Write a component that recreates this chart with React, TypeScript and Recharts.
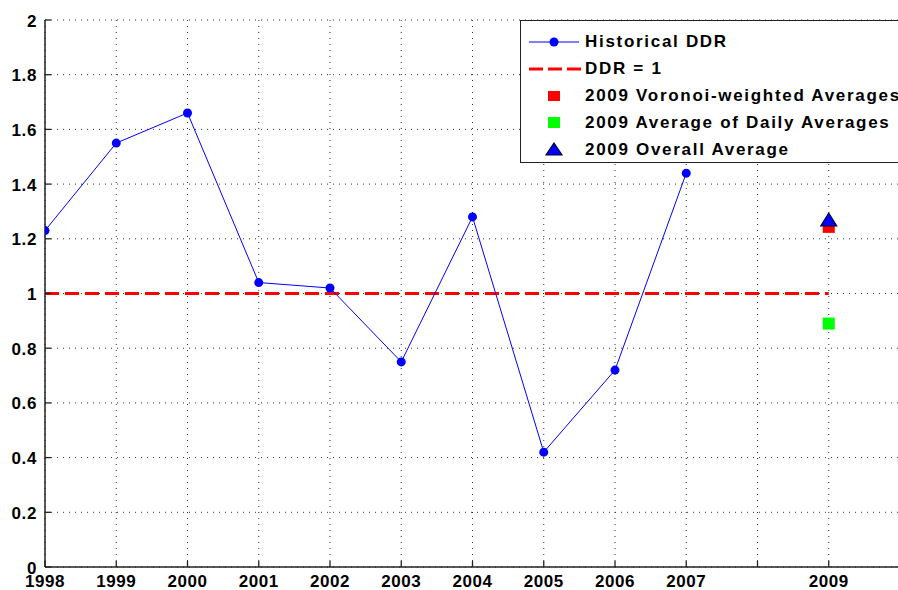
import { ComposedChart, Line, Scatter, XAxis, YAxis, CartesianGrid } from 'recharts';

const years = [1998, 1999, 2000, 2001, 2002, 2003, 2004, 2005, 2006, 2007];
const ddrValues = [1.23, 1.55, 1.66, 1.04, 1.02, 0.75, 1.28, 0.42, 0.72, 1.44];
const refYears = [1998, 2009];
const refValue = 1;
const voronoiAvg = [{ year: 2009, value: 1.24 }];
const dailyAvg = [{ year: 2009, value: 0.89 }];
const overallAvg = [{ year: 2009, value: 1.265 }];
const xTicks = [1998, 1999, 2000, 2001, 2002, 2003, 2004, 2005, 2006, 2007, 2008, 2009, 2010];
const hiddenXLabels = [2008, 2010];
const yTicks = [0, 0.2, 0.4, 0.6, 0.8, 1, 1.2, 1.4, 1.6, 1.8, 2];

const historical = years.map((year, i) => ({ year, value: ddrValues[i] }));
const refData = refYears.map(year => ({ year, value: refValue }));

const FONT = '"Liberation Sans", Arial, Helvetica, sans-serif';
const TICK_LEN = 6;

const BottomTick = (props: any) => {
  const { x, y, payload } = props;
  const label = hiddenXLabels.includes(payload.value) ? '' : String(payload.value);
  return (
    <g>
      <line x1={x} x2={x} y1={y} y2={y - TICK_LEN} stroke="#222" strokeWidth={1.3} />
      <text x={x} y={y + 20} textAnchor="middle" fontFamily={FONT} fontWeight="bold" fontSize={17} letterSpacing={0.6} fill="#000">
        {label}
      </text>
    </g>
  );
};

const TopTick = (props: any) => {
  const { x, y } = props;
  return <line x1={x} x2={x} y1={y} y2={y + TICK_LEN} stroke="#222" strokeWidth={1.3} />;
};

const LeftTick = (props: any) => {
  const { x, y, payload } = props;
  return (
    <g>
      <line x1={x + 8} x2={x + 8 + TICK_LEN} y1={y} y2={y} stroke="#222" strokeWidth={1.3} />
      <text x={x} y={y + 6.5} textAnchor="end" fontFamily={FONT} fontWeight="bold" fontSize={17} letterSpacing={0.6} fill="#000">
        {String(payload.value)}
      </text>
    </g>
  );
};

const RightTick = (props: any) => {
  const { x, y } = props;
  return <line x1={x - TICK_LEN} x2={x} y1={y} y2={y} stroke="#222" strokeWidth={1.3} />;
};

const RedSquare = (props: any) => {
  const { cx, cy } = props;
  return <rect x={cx - 6} y={cy - 5} width={12} height={10} fill="#ff0000" />;
};

const GreenSquare = (props: any) => {
  const { cx, cy } = props;
  return <rect x={cx - 6} y={cy - 6} width={12} height={12} fill="#00ff00" />;
};

const BlueTriangle = (props: any) => {
  const { cx, cy } = props;
  return <polygon points={`${cx - 8},${cy + 5} ${cx + 8},${cy + 5} ${cx},${cy - 8}`} fill="#0000ff" stroke="#000033" strokeWidth={1.2} />;
};

const legendRows = [
  { label: 'Historical DDR', kind: 'line' },
  { label: 'DDR = 1', kind: 'dash' },
  { label: '2009 Voronoi-weighted Averages', kind: 'red' },
  { label: '2009 Average of Daily Averages', kind: 'green' },
  { label: '2009 Overall Average', kind: 'tri' },
];

function LegendSymbol({ kind }: { kind: string }) {
  return (
    <svg width={54} height={20} style={{ display: 'block' }}>
      {kind === 'line' && (
        <g>
          <line x1={2} x2={52} y1={10} y2={10} stroke="#0000ff" strokeWidth={1} />
          <circle cx={27} cy={10} r={4.5} fill="#0000ff" />
        </g>
      )}
      {kind === 'dash' && <line x1={2} x2={54} y1={10} y2={10} stroke="#ff0000" strokeWidth={3} strokeDasharray="14 5" />}
      {kind === 'red' && <rect x={21} y={5} width={12} height={10} fill="#ff0000" />}
      {kind === 'green' && <rect x={21} y={4} width={12} height={11} fill="#00ff00" />}
      {kind === 'tri' && <polygon points="19,15 35,15 27,3" fill="#0000ff" stroke="#000033" strokeWidth={1.2} />}
    </svg>
  );
}

export default function App() {
  return (
    <div style={{ position: 'fixed', left: 0, top: 0, width: 898, height: 590, overflow: 'hidden', background: '#fff' }}>
      <ComposedChart width={902} height={590} margin={{ top: 20, right: 2, bottom: 0, left: 0 }}>
        <CartesianGrid stroke="#333" strokeDasharray="1 5" strokeWidth={1} />
        <XAxis
          dataKey="year"
          type="number"
          domain={[1998, 2010]}
          ticks={xTicks}
          interval={0}
          height={23}
          tickSize={0}
          tickMargin={0}
          tickLine={false}
          axisLine={{ stroke: '#222', strokeWidth: 1.5 }}
          tick={<BottomTick />}
          allowDataOverflow
        />
        <XAxis
          xAxisId="top"
          orientation="top"
          type="number"
          domain={[1998, 2010]}
          ticks={xTicks}
          interval={0}
          height={0}
          tickSize={0}
          tickMargin={0}
          tickLine={false}
          axisLine={{ stroke: '#222', strokeWidth: 1.5 }}
          tick={<TopTick />}
          allowDataOverflow
        />
        <YAxis
          type="number"
          domain={[0, 2]}
          ticks={yTicks}
          interval={0}
          width={45}
          tickSize={0}
          tickMargin={8}
          tickLine={false}
          axisLine={{ stroke: '#222', strokeWidth: 1.5 }}
          tick={<LeftTick />}
          allowDataOverflow
        />
        <YAxis
          yAxisId="right"
          orientation="right"
          type="number"
          domain={[0, 2]}
          ticks={yTicks}
          interval={0}
          width={0}
          tickSize={0}
          tickMargin={0}
          tickLine={false}
          axisLine={{ stroke: '#222', strokeWidth: 1.5 }}
          tick={<RightTick />}
          allowDataOverflow
        />
        <Line data={refData} dataKey="value" stroke="#ff0000" strokeWidth={3} strokeDasharray="14 6" dot={false} isAnimationActive={false} />
        <Line
          data={historical}
          dataKey="value"
          stroke="#0000ff"
          strokeWidth={1}
          dot={{ r: 4.5, fill: '#0000ff', stroke: '#0000ff', strokeWidth: 0 }}
          isAnimationActive={false}
        />
        <Scatter data={voronoiAvg} dataKey="value" shape={<RedSquare />} isAnimationActive={false} />
        <Scatter data={dailyAvg} dataKey="value" shape={<GreenSquare />} isAnimationActive={false} />
        <Scatter data={overallAvg} dataKey="value" shape={<BlueTriangle />} isAnimationActive={false} />
      </ComposedChart>
      <div
        style={{
          position: 'absolute',
          left: 520,
          top: 20,
          width: 400,
          height: 143,
          border: '1.5px solid #222',
          background: '#fff',
          boxSizing: 'border-box',
          paddingTop: 8,
          fontFamily: FONT,
        }}
      >
        {legendRows.map(row => (
          <div key={row.label} style={{ display: 'flex', alignItems: 'center', height: 26.8 }}>
            <div style={{ marginLeft: 6, width: 58 }}>
              <LegendSymbol kind={row.kind} />
            </div>
            <span style={{ fontWeight: 'bold', fontSize: 17, letterSpacing: 1.7, whiteSpace: 'nowrap', color: '#000' }}>{row.label}</span>
          </div>
        ))}
      </div>
    </div>
  );
}
